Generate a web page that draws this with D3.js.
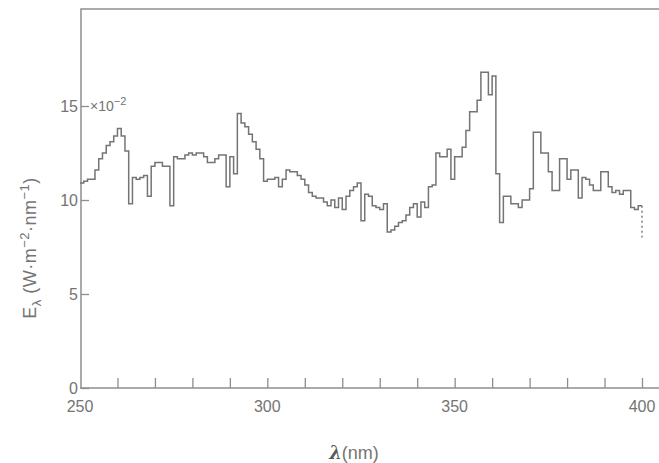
<!DOCTYPE html>
<html>
<head>
<meta charset="utf-8">
<script src="https://cdn.jsdelivr.net/npm/d3@7"></script>
<style>
  body { margin: 0; background: #fff; }
  svg text { font-family: "Liberation Sans", Arial, sans-serif; fill: #747474; }
</style>
</head>
<body>
<svg id="chart" width="659" height="463"></svg>
<script>
// spectral irradiance, 1 nm bins starting at 250 nm (units of 10^-2 W m^-2 nm^-1)
const startNm = 250;
const irradiance = [
  10.9, 11.0, 11.1, 11.1, 11.6, 12.2, 12.5, 12.9, 13.1, 13.4,
  13.8, 13.4, 12.6, 9.8, 11.2, 11.1, 11.2, 11.3, 10.2, 11.8,
  12.0, 12.0, 11.8, 11.8, 9.7, 12.3, 12.2, 12.2, 12.4, 12.5,
  12.4, 12.5, 12.5, 12.3, 12.0, 12.0, 12.2, 12.4, 12.4, 10.7,
  12.3, 11.4, 14.6, 14.1, 13.9, 13.5, 13.1, 12.7, 12.2, 11.0,
  11.1, 11.1, 11.2, 10.7, 11.1, 11.6, 11.5, 11.5, 11.3, 11.1,
  10.8, 10.4, 10.2, 10.1, 10.1, 9.9, 9.7, 10.0, 9.6, 10.1,
  9.5, 10.2, 10.5, 10.7, 10.9, 8.9, 10.3, 10.2, 9.7, 9.6,
  9.5, 9.8, 8.3, 8.4, 8.6, 8.8, 8.9, 9.2, 9.6, 9.8,
  9.1, 9.9, 9.6, 10.7, 10.8, 12.5, 12.3, 12.3, 12.7, 11.1,
  12.3, 12.3, 12.8, 13.7, 14.7, 14.7, 15.3, 16.8, 16.8, 15.6,
  16.6, 11.4, 8.8, 10.2, 10.2, 9.8, 9.8, 9.6, 10.0, 10.0,
  10.6, 13.6, 13.6, 12.5, 12.5, 11.5, 10.5, 10.5, 12.2, 12.2,
  11.1, 11.6, 11.6, 10.1, 11.2, 11.1, 10.8, 10.5, 10.5, 11.5,
  11.5, 10.7, 10.4, 10.5, 10.3, 10.5, 10.5, 9.6, 9.5, 9.7
];
const endValue = 8.0;          // dotted drop at the 400 nm edge
const xTicks = [260, 270, 280, 290, 300, 310, 320, 330, 340, 350, 360, 370, 380, 390, 400];
const xLabels = [250, 300, 350, 400];
const yTicks = [0, 5, 10, 15];

const svg = d3.select("#chart");

const x = d3.scaleLinear().domain([250, 400]).range([80, 642]);
const y = d3.scaleLinear().domain([0, 15]).range([388, 106]);

const data = irradiance.map((v, i) => ({nm: startNm + i, v: v}));
data.push({nm: 400, v: irradiance[irradiance.length - 1]});

// frame: top and left edge
svg.append("path")
    .attr("d", `M81,388 V9 H659`)
    .attr("fill", "none")
    .attr("stroke", "#8e8e8e")
    .attr("stroke-width", 1.5);

// x axis
const xAxis = svg.append("g")
    .attr("transform", `translate(0,${y(0)})`)
    .call(d3.axisBottom(x).tickValues(xTicks).tickSize(-10).tickFormat(""));
xAxis.select(".domain").attr("d", `M80,0 H659`).attr("stroke", "#8e8e8e").attr("stroke-width", 1.5);
xAxis.selectAll(".tick line").attr("stroke", "#8e8e8e").attr("stroke-width", 1.3);

svg.append("g").selectAll("text")
    .data(xLabels)
    .join("text")
    .attr("x", d => x(d))
    .attr("y", 412)
    .attr("text-anchor", "middle")
    .style("font-size", "16px")
    .text(d => d);

// y axis
const yAxis = svg.append("g")
    .attr("transform", `translate(81,0)`)
    .call(d3.axisRight(y).tickValues(yTicks).tickSize(8).tickFormat(""));
yAxis.select(".domain").remove();
yAxis.selectAll(".tick line").attr("stroke", "#8e8e8e").attr("stroke-width", 1.3);

svg.append("g").selectAll("text")
    .data(yTicks)
    .join("text")
    .attr("x", 78)
    .attr("y", d => y(d) + 6)
    .attr("text-anchor", "end")
    .style("font-size", "16px")
    .text(d => d);

// x10^-2 marker
const mult = svg.append("text")
    .attr("x", 90)
    .attr("y", y(15) + 5)
    .style("font-size", "14px");
mult.append("tspan").text("×10");
mult.append("tspan").attr("dy", -6).style("font-size", "11px").text("−2");

// step curve
const line = d3.line()
    .x(d => x(d.nm))
    .y(d => y(d.v))
    .curve(d3.curveStepAfter);

svg.append("path")
    .datum(data)
    .attr("d", line)
    .attr("fill", "none")
    .attr("stroke", "#747474")
    .attr("stroke-width", 1.5);

svg.append("line")
    .attr("x1", x(400)).attr("x2", x(400))
    .attr("y1", y(irradiance[irradiance.length - 1])).attr("y2", y(endValue))
    .attr("stroke", "#747474")
    .attr("stroke-width", 1.4)
    .attr("stroke-dasharray", "2,3");

// axis titles
const xt = svg.append("text")
    .attr("x", 354)
    .attr("y", 459)
    .attr("text-anchor", "middle")
    .style("font-size", "18px");
xt.append("tspan").style("font-family", "DejaVu Serif, serif").style("font-style", "italic").style("font-weight", "bold").style("fill", "#5a5a5a").text("λ");
xt.append("tspan").text("(nm)");

const yt = svg.append("text")
    .attr("transform", `translate(36,248) rotate(-90)`)
    .attr("text-anchor", "middle")
    .style("font-size", "18px")
    .style("letter-spacing", "0.5px");
yt.append("tspan").text("E");
yt.append("tspan").attr("dy", 5).style("font-size", "13px").text("λ");
yt.append("tspan").attr("dy", -5).text(" (W·m");
yt.append("tspan").attr("dy", -7).style("font-size", "13px").text("−2");
yt.append("tspan").attr("dy", 7).text("·nm");
yt.append("tspan").attr("dy", -7).style("font-size", "13px").text("−1");
yt.append("tspan").attr("dy", 7).text(")");
</script>
</body>
</html>
